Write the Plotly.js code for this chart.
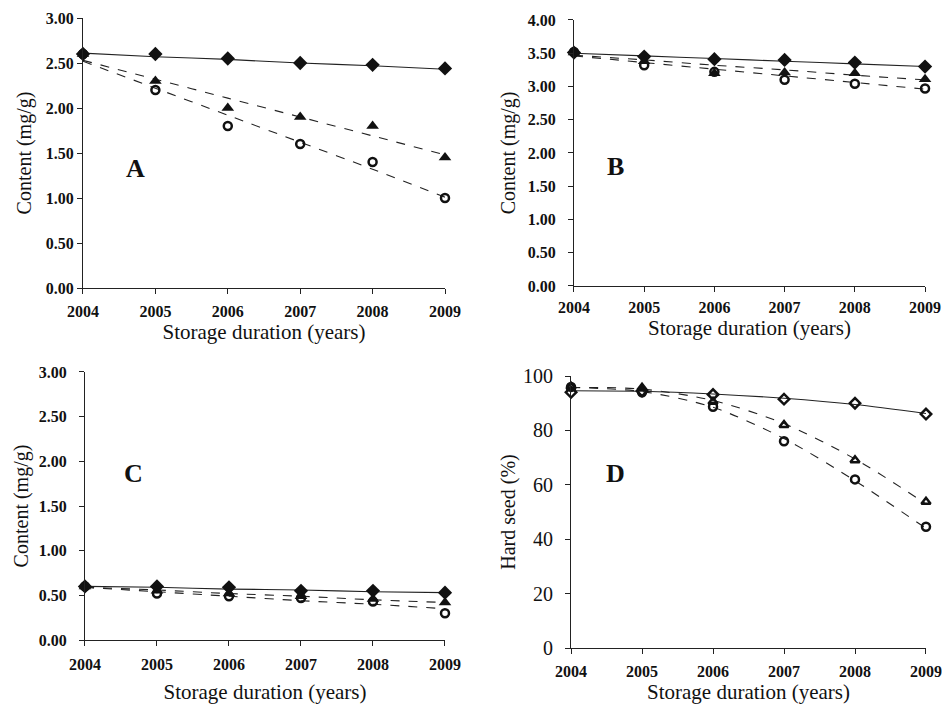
<!DOCTYPE html>
<html>
<head>
<meta charset="utf-8">
<script src="https://cdn.plot.ly/plotly-3.0.1.min.js"></script>
<style>html,body{margin:0;padding:0;background:#fff;}#chart{width:942px;height:704px;}</style>
</head>
<body>
<div id="chart"></div>
<script>
// ---- data ----
var years = [2004, 2005, 2006, 2007, 2008, 2009];

// Panel A
var aDiamond = [2.60, 2.60, 2.55, 2.50, 2.48, 2.44];
var aTriangle = [2.60, 2.30, 2.00, 1.90, 1.80, 1.45];
var aCircle = [2.60, 2.20, 1.80, 1.60, 1.40, 1.00];
var aDiamondFit = [2.61, 2.57, 2.54, 2.50, 2.47, 2.43];
var aTriangleFit = [2.53, 2.32, 2.11, 1.90, 1.69, 1.48];
var aCircleFit = [2.52, 2.22, 1.92, 1.62, 1.32, 1.01];

// Panel B
var bDiamond = [3.51, 3.45, 3.41, 3.40, 3.36, 3.30];
var bTriangle = [3.51, 3.38, 3.20, 3.21, 3.20, 3.11];
var bCircle = [3.52, 3.32, 3.22, 3.10, 3.04, 2.97];
var bDiamondFit = [3.50, 3.46, 3.42, 3.38, 3.34, 3.30];
var bTriangleFit = [3.47, 3.40, 3.32, 3.25, 3.17, 3.10];
var bCircleFit = [3.46, 3.36, 3.26, 3.16, 3.06, 2.96];

// Panel C
var cDiamond = [0.60, 0.60, 0.59, 0.55, 0.55, 0.53];
var cTriangle = [0.60, 0.55, 0.52, 0.49, 0.46, 0.42];
var cCircle = [0.60, 0.52, 0.49, 0.47, 0.43, 0.30];
var cDiamondFit = [0.60, 0.59, 0.57, 0.56, 0.54, 0.53];
var cTriangleFit = [0.59, 0.56, 0.52, 0.49, 0.45, 0.42];
var cCircleFit = [0.59, 0.54, 0.49, 0.44, 0.40, 0.35];

// Panel D
var dDiamond = [94.0, 94.5, 93.2, 91.5, 90.0, 86.0];
var dTriangle = [96.0, 95.7, 90.5, 82.0, 69.0, 53.8];
var dCircle = [96.0, 94.0, 88.7, 76.0, 62.0, 44.6];
var dDiamondFit = [94.6, 94.4, 93.4, 91.8, 89.5, 86.2];
var dTriangleFit = [95.8, 95.2, 91.0, 82.5, 69.5, 53.0];
var dCircleFit = [95.8, 94.3, 88.5, 77.0, 61.5, 44.0];

var yTitles = ['Content (mg/g)', 'Content (mg/g)', 'Content (mg/g)', 'Hard seed (%)'];
var xTitle = 'Storage duration (years)';
var panelLetters = ['A', 'B', 'C', 'D'];

// ---- build ----
var FONT = 'Liberation Serif';
var traces = [];

function addPanel(ax, fits, pts, symbols) {
  var xa = 'x' + (ax === 1 ? '' : ax), ya = 'y' + (ax === 1 ? '' : ax);
  var dashes = ['solid', 'dash', 'dash'];
  for (var i = 0; i < 3; i++) {
    traces.push({
      x: years, y: fits[i], xaxis: xa, yaxis: ya, mode: 'lines',
      line: {color: '#222', width: 1.1, dash: dashes[i], shape: 'spline', smoothing: 0.8},
      hoverinfo: 'skip', showlegend: false, cliponaxis: false
    });
  }
  var sizes = [11, 11, 8];
  for (var j = 0; j < 3; j++) {
    var sym = symbols[j];
    var isOpen = sym.indexOf('open') >= 0;
    traces.push({
      x: years, y: pts[j], xaxis: xa, yaxis: ya, mode: 'markers',
      marker: {symbol: sym, size: isOpen ? 8 : sizes[j], color: '#111',
               line: {color: '#111', width: isOpen ? 2.5 : 0}},
      showlegend: false, cliponaxis: false
    });
  }
}

addPanel(1, [aDiamondFit, aTriangleFit, aCircleFit], [aDiamond, aTriangle, aCircle], ['diamond', 'triangle-up', 'circle-open']);
addPanel(2, [bDiamondFit, bTriangleFit, bCircleFit], [bDiamond, bTriangle, bCircle], ['diamond', 'triangle-up', 'circle-open']);
addPanel(3, [cDiamondFit, cTriangleFit, cCircleFit], [cDiamond, cTriangle, cCircle], ['diamond', 'triangle-up', 'circle-open']);
addPanel(4, [dDiamondFit, dTriangleFit, dCircleFit], [dDiamond, dTriangle, dCircle], ['diamond-open', 'triangle-up-open', 'circle-open']);

function xAxis(domain, anchor, labelOff, standoff) {
  return {
    domain: domain, anchor: anchor, range: [2004, 2009], tickvals: years, ticktext: years.map(String),
    showline: true, linecolor: '#222', linewidth: 1, ticks: 'outside', ticklen: 5, tickcolor: '#222',
    showgrid: false, zeroline: false, automargin: false, ticklabelstandoff: labelOff,
    tickfont: {family: FONT, size: 16, color: '#111', weight: 'bold'},
    title: {text: xTitle, font: {family: FONT, size: 21, color: '#111'}, standoff: standoff}
  };
}
function yAxis(domain, anchor, range, dtick, fmt, title, tfont, labelOff, standoff) {
  return {
    domain: domain, anchor: anchor, range: range, dtick: dtick, tick0: 0, tickformat: fmt,
    showline: true, linecolor: '#222', linewidth: 1, ticks: 'outside', ticklen: 5, tickcolor: '#222',
    showgrid: false, zeroline: false, automargin: false, ticklabelstandoff: labelOff,
    tickfont: tfont,
    title: {text: title, font: {family: FONT, size: 20, color: '#111'}, standoff: standoff}
  };
}
var boldTick = {family: FONT, size: 16, color: '#111', weight: 'bold'};
var regTick = {family: FONT, size: 20, color: '#111'};

var layout = {
  width: 942, height: 704,
  margin: {l: 0, r: 0, t: 0, b: 0},
  font: {family: FONT, color: '#111'},
  paper_bgcolor: '#fff', plot_bgcolor: '#fff',
  showlegend: false,
  xaxis: xAxis([0.0881, 0.4724], 'y', 4, 2),
  yaxis: yAxis([0.5909, 0.9744], 'x', [0, 3], 0.5, '.2f', yTitles[0], boldTick, 0, 8),
  xaxis2: xAxis([0.6093, 0.9820], 'y2', 2, 4),
  yaxis2: yAxis([0.5938, 0.9716], 'x2', [0, 4], 0.5, '.2f', yTitles[1], boldTick, 9, 6),
  xaxis3: xAxis([0.0902, 0.4724], 'y3', 5, 12),
  yaxis3: yAxis([0.0909, 0.4716], 'x3', [0, 3], 0.5, '.2f', yTitles[2], boldTick, 9, 4),
  xaxis4: xAxis([0.6062, 0.9830], 'y4', 4, 5),
  yaxis4: yAxis([0.0795, 0.4659], 'x4', [0, 100], 20, 'd', yTitles[3], regTick, 8, 2),
  annotations: [
    {text: panelLetters[0], xref: 'paper', yref: 'paper', x: 135 / 942, y: 1 - 168 / 704},
    {text: panelLetters[1], xref: 'paper', yref: 'paper', x: 615 / 942, y: 1 - 166 / 704},
    {text: panelLetters[2], xref: 'paper', yref: 'paper', x: 133 / 942, y: 1 - 473 / 704},
    {text: panelLetters[3], xref: 'paper', yref: 'paper', x: 615 / 942, y: 1 - 473 / 704}
  ].map(function (a) {
    a.showarrow = false; a.xanchor = 'center'; a.yanchor = 'middle';
    a.font = {family: FONT, size: 26, color: '#111', weight: 'bold'};
    return a;
  })
};

Plotly.newPlot('chart', traces, layout, {displayModeBar: false, staticPlot: true});
</script>
</body>
</html>
